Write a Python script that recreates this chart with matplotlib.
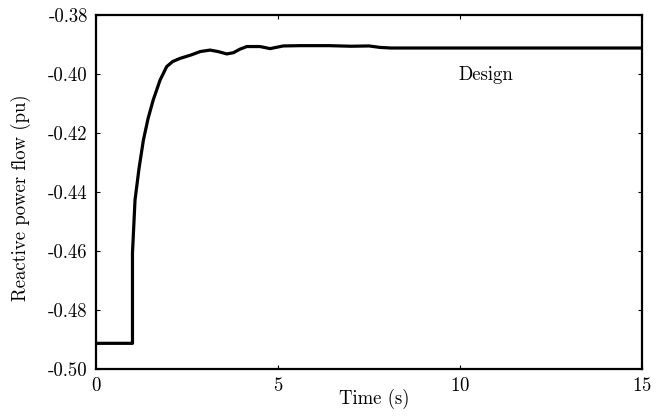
import matplotlib
matplotlib.use("Agg")
import matplotlib.pyplot as plt

plt.rcParams["font.family"] = ["cmr10", "DejaVu Serif"]
plt.rcParams["axes.unicode_minus"] = False
plt.rcParams["axes.formatter.use_mathtext"] = True

# reactive power flow response
time = [0.0, 0.99, 1.0, 1.0, 1.07, 1.18, 1.30, 1.43, 1.57, 1.76, 1.94, 2.1, 2.31,
        2.6, 2.86, 3.13, 3.35, 3.59, 3.77, 3.95, 4.14, 4.5, 4.78, 5.14, 5.6,
        6.4, 7.0, 7.5, 7.8, 8.1, 9.0, 11.0, 13.0, 15.0]
flow = [-0.4913, -0.4913, -0.4913, -0.4607, -0.4427, -0.4320, -0.4224, -0.4150,
        -0.4088, -0.4020, -0.3975, -0.3958, -0.3947, -0.3936, -0.3924, -0.3919,
        -0.3924, -0.3932, -0.3928, -0.3916, -0.3907, -0.3907, -0.3914, -0.3905,
        -0.3904, -0.3904, -0.3906, -0.3905, -0.3910, -0.3912, -0.3912, -0.3912,
        -0.3912, -0.3912]
xticks = [0, 5, 10, 15]
yticks = [-0.50, -0.48, -0.46, -0.44, -0.42, -0.40, -0.38]

fig = plt.figure(figsize=(6.58, 4.16), dpi=100)
ax = fig.add_axes([0.146, 0.113, 0.830, 0.851])
ax.plot(time, flow, color="black", lw=2.3)
ax.set_xlim(0, 15)
ax.set_ylim(-0.50, -0.38)
ax.set_xticks(xticks)
ax.set_yticks(yticks)
ax.set_yticklabels([f"{v:.2f}" for v in yticks])
ax.tick_params(direction="in", length=3, width=0.8, top=True, right=True,
               labelsize=13.5, pad=6)
for s in ax.spines.values():
    s.set_linewidth(1.6)
ax.text(10.7, -0.4003, "Design", ha="center", va="center", fontsize=13.5)
ax.set_xlabel("Time (s)", fontsize=13.5)
ax.set_ylabel("Reactive power flow (pu)", fontsize=13.5)
ax.xaxis.set_label_coords(0.51, -0.056)
ax.yaxis.set_label_coords(-0.119, 0.484)
fig.savefig("out.png", dpi=100)
